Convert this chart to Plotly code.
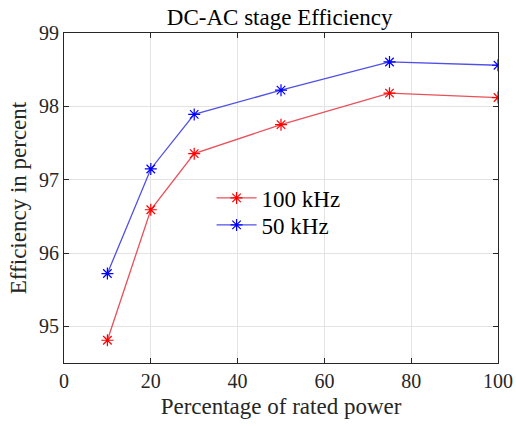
import plotly.graph_objects as go

power_pct = [10, 20, 30, 50, 75, 100]
eff_100khz = [94.81, 96.59, 97.355, 97.75, 98.18, 98.12]
eff_50khz = [95.72, 97.146, 97.89, 98.22, 98.605, 98.56]

FONT = "Liberation Serif"

fig = go.Figure()
fig.add_trace(go.Scatter(
    x=power_pct, y=eff_100khz, name="100 kHz", mode="lines+markers", legend="legend",
    line=dict(color="#e8505a", width=1.3),
    marker=dict(symbol="asterisk-open", size=10, color="#ff0000", line=dict(color="#ff0000", width=1.2)),
))
fig.add_trace(go.Scatter(
    x=power_pct, y=eff_50khz, name="50 kHz", mode="lines+markers", legend="legend2",
    line=dict(color="#5050e8", width=1.3),
    marker=dict(symbol="asterisk-open", size=10, color="#0000ff", line=dict(color="#0000ff", width=1.2)),
))

axis_common = dict(
    showline=True, linecolor="#262626", linewidth=1, mirror="ticks",
    ticks="inside", ticklen=5, tickcolor="#262626",
    showgrid=True, gridcolor="#e3e3e3", gridwidth=1, zeroline=False,
    automargin=False,
    tickfont=dict(family=FONT, size=20, color="#262626"),
)

legend_common = dict(
    xanchor="left", yanchor="middle",
    bgcolor="rgba(255,255,255,0)", borderwidth=0,
    font=dict(family=FONT, size=23, color="black"),
    itemwidth=40, tracegroupgap=0,
)

fig.update_layout(
    width=516, height=426,
    margin=dict(l=64, r=18, t=33, b=63),
    paper_bgcolor="white", plot_bgcolor="white",
    font=dict(family=FONT, size=20, color="#262626"),
    title=dict(text="DC-AC stage Efficiency", x=0.497, xref="paper", xanchor="center",
               y=1 - 17 / 426, yref="container", yanchor="middle",
               font=dict(family=FONT, size=23, color="black")),
    xaxis=dict(range=[0, 100], tickvals=[0, 20, 40, 60, 80, 100],
               title=dict(text="Percentage of rated power", standoff=6,
                          font=dict(family=FONT, size=23, color="#262626")),
               **axis_common),
    yaxis=dict(range=[94.5, 99], tickvals=[95, 96, 97, 98, 99],
               title=dict(text="Efficiency in percent", standoff=5,
                          font=dict(family=FONT, size=23, color="#262626")),
               **axis_common),
    legend=dict(x=0.34, y=(363 - 198) / 330, **legend_common),
    legend2=dict(x=0.34, y=(363 - 225) / 330, **legend_common),
    showlegend=True,
)

fig.write_html("out.html")
